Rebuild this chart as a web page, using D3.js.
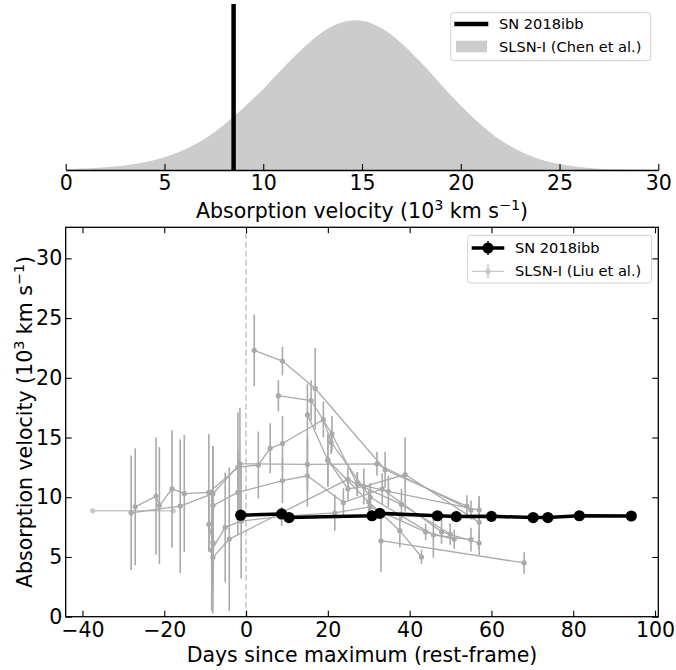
<!DOCTYPE html>
<html>
<head>
<meta charset="utf-8">
<script src="https://cdn.jsdelivr.net/npm/d3@7"></script>
<style>
  body { margin: 0; background: #fff; }
  svg { display: block; font-family: "DejaVu Sans", sans-serif; }
</style>
</head>
<body>
<svg id="chart" width="676" height="670"></svg>
<script>
// ---------------- DATA ----------------
// Top panel: SLSN-I (Chen et al.) velocity distribution (relative density)
const chenVel = [0,1,2,3,4,5,6,7,8,9,10,11,12,13,14,15,16,17,18,19,20,21,22,23,24,25,26,27,28,29,30];
const chenDensity = [0.006,0.010,0.018,0.030,0.052,0.085,0.135,0.205,0.30,0.415,0.54,0.68,0.81,0.92,0.985,0.995,0.945,0.845,0.715,0.57,0.43,0.305,0.20,0.125,0.072,0.04,0.02,0.009,0.004,0.002,0.001];
const sn2018ibbMeanVel = 8.5;
const topTicks = [0,5,10,15,20,25,30];

// Bottom panel: SN 2018ibb
const snDays = [-1.3, 8.7, 10.5, 30.8, 32.7, 46.8, 51.4, 60.0, 70.2, 73.8, 81.5, 94.2];
const snVel  = [8.5, 8.6, 8.3, 8.45, 8.65, 8.45, 8.38, 8.4, 8.3, 8.3, 8.45, 8.43];
const snErr  = [0.3, 0.3, 0.3, 0.3, 0.3, 0.3, 0.3, 0.3, 0.3, 0.3, 0.3, 0.3];

// Bottom panel: SLSN-I (Liu et al.) — each series: [day, velocity, error]
const liuFirst = [[-37.5, 8.87, 0], [-17.8, 8.87, 0]];
const liuSeries = [
  [[-27.1,9.2,4.9],[-22.0,10.1,4.9],[-21.2,9.3,4.9],[-18.1,10.7,4.9],[-15.1,10.3,4.9],[-9.1,10.4,4.9],[-2.0,12.5,4.6],[3.0,12.7,2.8],[5.9,14.1,2.1],[8.9,14.5,2.3],[18.9,16.5,1.5],[20.8,14.6,1.0],[30.4,10.0,1.2],[45.8,6.84,1.9],[55.0,6.45,1.0]],
  [[-28.1,8.7,4.8],[-16.1,9.26,5.6],[-8.1,10.3,4.0],[-1.5,12.8,4.7],[15.0,12.75,2.3],[32.0,12.8,1.0],[55.0,8.93,0.8]],
  [[-8.1,9.3,5.0],[-2.0,10.4,3.5],[8.9,11.4,1.9],[15.0,11.8,2.6],[23.8,9.55,1.2],[33.3,10.7,1.3],[47.8,7.1,1.0],[57.0,6.17,1.0]],
  [[-8.4,5.57,5.1],[-5.1,7.48,4.6],[-1.2,8.0,4.8],[8.7,8.4,0.8],[21.7,8.7,1.5],[30.3,9.2,0.8],[43.9,7.1,0.7],[50.9,6.48,0.8]],
  [[-8.1,4.97,4.7],[-4.1,6.5,6.0],[24.9,11.5,1.0],[27.2,11.1,1.0],[38.0,9.4,1.3],[49.9,6.92,0.9]],
  [[-9.1,7.73,2.3],[-8.1,6.2,4.0]],
  [[2.0,22.3,3.0],[8.9,21.4,1.2],[16.9,19.1,3.4],[34.0,12.3,1.5],[54.0,9.26,0.9]],
  [[7.9,18.5,1.3],[15.9,18.1,1.7],[21.0,15.3,1.5],[27.2,11.1,1.0],[34.8,10.5,1.3],[57.0,8.93,0.9]],
  [[15.0,16.9,2.6],[20.0,13.1,2.2],[24.9,10.7,1.0],[28.8,10.9,1.5],[38.9,11.9,3.1],[57.0,7.9,2.2]],
  [[20.0,13.1,2.2],[30.0,9.6,1.0],[37.6,7.2,1.4],[42.9,5.0,0.6]],
  [[33.0,6.36,2.6],[68.0,4.5,0.9]]
];
const bottomXTicks = [-40,-20,0,20,40,60,80,100];
const bottomYTicks = [0,5,10,15,20,25,30];

// ---------------- DRAW ----------------
const svg = d3.select("#chart");
const FONT = 20.5;
const LEGFONT = 14.6;

// ---------- Top panel ----------
const tx = d3.scaleLinear().domain([0, 30]).range([65.7, 658.3]);
const ty = d3.scaleLinear().domain([0, 1.107]).range([170, 4]);
const topG = svg.append("g");
const area = d3.area().x((d, i) => tx(chenVel[i])).y0(ty(0)).y1(d => ty(d)).curve(d3.curveCatmullRom);
topG.append("path").datum(chenDensity).attr("d", area).attr("fill", "#cccccc");
topG.append("line").attr("x1", tx(sn2018ibbMeanVel)).attr("x2", tx(sn2018ibbMeanVel))
  .attr("y1", ty.range()[1]).attr("y2", ty.range()[0]).attr("stroke", "#000").attr("stroke-width", 4.5);
const topAxis = d3.axisBottom(tx).tickValues(topTicks).tickSizeInner(-6).tickSizeOuter(0).tickPadding(5.5);
const tag = topG.append("g").attr("transform", "translate(0,170)").call(topAxis);
tag.select(".domain").attr("stroke-width", 1.3);
tag.selectAll(".tick line").attr("stroke-width", 1.1);
tag.selectAll("text").attr("font-size", FONT).attr("font-family", "DejaVu Sans").attr("fill", "#000");

function velLabel(sel) {
  sel.append("tspan").text("Absorption velocity (10");
  sel.append("tspan").text("3").attr("dy", -8.5).attr("font-size", FONT * 0.7);
  sel.append("tspan").text(" km s").attr("dy", 8.5);
  sel.append("tspan").text("−1").attr("dy", -8.5).attr("font-size", FONT * 0.7);
  sel.append("tspan").text(")").attr("dy", 8.5);
}
topG.append("text").attr("x", (65.7 + 658.3) / 2).attr("y", 218).attr("text-anchor", "middle")
  .attr("font-size", FONT).call(velLabel);

// top legend
const tl = topG.append("g");
tl.append("rect").attr("x", 450.7).attr("y", 12.7).attr("width", 200).attr("height", 48).attr("rx", 3)
  .attr("fill", "#fff").attr("fill-opacity", 0.8).attr("stroke", "#d0d0d0");
tl.append("line").attr("x1", 454.3).attr("x2", 488.3).attr("y1", 24).attr("y2", 24).attr("stroke", "#000").attr("stroke-width", 4.5);
tl.append("rect").attr("x", 456).attr("y", 40.7).attr("width", 31).attr("height", 11.6).attr("fill", "#cccccc");
tl.append("text").attr("x", 499).attr("y", 24).attr("dy", "0.35em").attr("font-size", LEGFONT).text("SN 2018ibb");
tl.append("text").attr("x", 499).attr("y", 46.7).attr("dy", "0.35em").attr("font-size", LEGFONT).text("SLSN-I (Chen et al.)");

// ---------- Bottom panel ----------
const X0 = 65.7, X1 = 658.3, Y0 = 616.7, Y1 = 227.3;
const bx = d3.scaleLinear().domain([-44.1, 100.8]).range([X0, X1]);
const by = d3.scaleLinear().domain([0, 32.6]).range([Y0, Y1]);
const bot = svg.append("g");

bot.append("line").attr("x1", bx(0)).attr("x2", bx(0)).attr("y1", Y0).attr("y2", Y1)
  .attr("stroke", "#bbbbbb").attr("stroke-width", 1.3).attr("stroke-dasharray", "6,3");

const GRAY = "#aaaaaa";
const LIGHT = "#c8c8c8";
const lineGen = d3.line().x(d => bx(d[0])).y(d => by(d[1]));

function drawSeries(data, color) {
  const g = bot.append("g");
  g.selectAll("line.err").data(data.filter(d => d[2] > 0)).join("line")
    .attr("x1", d => bx(d[0])).attr("x2", d => bx(d[0]))
    .attr("y1", d => by(Math.max(0, d[1] - d[2]))).attr("y2", d => by(d[1] + d[2]))
    .attr("stroke", color).attr("stroke-width", 1.6);
  g.append("path").datum(data).attr("d", lineGen).attr("fill", "none").attr("stroke", color).attr("stroke-width", 1.3);
  g.selectAll("circle").data(data).join("circle")
    .attr("cx", d => bx(d[0])).attr("cy", d => by(d[1])).attr("r", 2.6).attr("fill", color);
}
drawSeries(liuFirst, LIGHT);
liuSeries.forEach(s => drawSeries(s, GRAY));

// SN 2018ibb
const snData = snDays.map((d, i) => [d, snVel[i], snErr[i]]);
const sg = bot.append("g");
sg.selectAll("line.err").data(snData).join("line")
  .attr("x1", d => bx(d[0])).attr("x2", d => bx(d[0]))
  .attr("y1", d => by(d[1] - d[2])).attr("y2", d => by(d[1] + d[2])).attr("stroke", "#000").attr("stroke-width", 1.5);
sg.append("path").datum(snData).attr("d", lineGen).attr("fill", "none").attr("stroke", "#000").attr("stroke-width", 3.5);
sg.selectAll("circle").data(snData).join("circle")
  .attr("cx", d => bx(d[0])).attr("cy", d => by(d[1])).attr("r", 5.6).attr("fill", "#000");

// frame & axes
bot.append("rect").attr("x", X0).attr("y", Y1).attr("width", X1 - X0).attr("height", Y0 - Y1)
  .attr("fill", "none").attr("stroke", "#000").attr("stroke-width", 1.3);
function styleAxis(g, showText) {
  g.select(".domain").remove();
  g.selectAll(".tick line").attr("stroke-width", 1.1);
  if (showText) g.selectAll("text").attr("font-size", FONT).attr("font-family", "DejaVu Sans").attr("fill", "#000");
  else g.selectAll("text").remove();
}
bot.append("g").attr("transform", `translate(0,${Y0})`)
  .call(d3.axisBottom(bx).tickValues(bottomXTicks).tickFormat(d3.format("d")).tickSizeInner(-6).tickSizeOuter(0).tickPadding(5.5))
  .call(g => styleAxis(g, true));
bot.append("g").attr("transform", `translate(0,${Y1})`)
  .call(d3.axisTop(bx).tickValues(bottomXTicks).tickSizeInner(-6).tickSizeOuter(0))
  .call(g => styleAxis(g, false));
bot.append("g").attr("transform", `translate(${X0},0)`)
  .call(d3.axisLeft(by).tickValues(bottomYTicks).tickFormat(d3.format("d")).tickSizeInner(-6).tickSizeOuter(0).tickPadding(3.5))
  .call(g => styleAxis(g, true));
bot.append("g").attr("transform", `translate(${X1},0)`)
  .call(d3.axisRight(by).tickValues(bottomYTicks).tickSizeInner(-6).tickSizeOuter(0))
  .call(g => styleAxis(g, false));
bot.selectAll(".tick text").text(function() { return d3.select(this).text().replace("-", "−"); });

bot.append("text").attr("x", (X0 + X1) / 2).attr("y", 662).attr("text-anchor", "middle")
  .attr("font-size", FONT).text("Days since maximum (rest-frame)");
bot.append("text").attr("transform", `translate(32,${(Y0 + Y1) / 2}) rotate(-90)`).attr("text-anchor", "middle")
  .attr("font-size", FONT).call(velLabel);

// bottom legend
const bl = bot.append("g");
bl.append("rect").attr("x", 467.7).attr("y", 235.3).attr("width", 184).attr("height", 47.7).attr("rx", 3)
  .attr("fill", "#fff").attr("fill-opacity", 0.8).attr("stroke", "#d0d0d0");
bl.append("line").attr("x1", 471.7).attr("x2", 504.3).attr("y1", 248).attr("y2", 248).attr("stroke", "#000").attr("stroke-width", 3.5);
bl.append("line").attr("x1", 488).attr("x2", 488).attr("y1", 241).attr("y2", 255).attr("stroke", "#000").attr("stroke-width", 1.5);
bl.append("circle").attr("cx", 488).attr("cy", 248).attr("r", 5.6).attr("fill", "#000");
bl.append("line").attr("x1", 471.7).attr("x2", 504.3).attr("y1", 271.3).attr("y2", 271.3).attr("stroke", LIGHT).attr("stroke-width", 1.3);
bl.append("line").attr("x1", 488).attr("x2", 488).attr("y1", 264.3).attr("y2", 278.3).attr("stroke", LIGHT).attr("stroke-width", 1.6);
bl.append("circle").attr("cx", 488).attr("cy", 271.3).attr("r", 2.6).attr("fill", LIGHT);
bl.append("text").attr("x", 515).attr("y", 248).attr("dy", "0.35em").attr("font-size", LEGFONT).text("SN 2018ibb");
bl.append("text").attr("x", 515).attr("y", 271.3).attr("dy", "0.35em").attr("font-size", LEGFONT).text("SLSN-I (Liu et al.)");
</script>
</body>
</html>
